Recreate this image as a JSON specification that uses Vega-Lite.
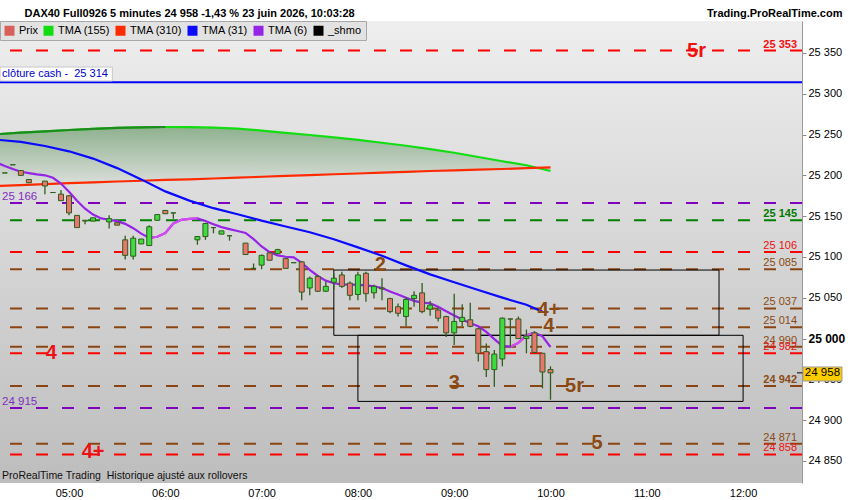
{
"$schema":"https://vega.github.io/schema/vega-lite/v6.json",
"width":802,"height":462,
"autosize":{"type":"none"},
"padding":{"left":0,"top":21,"right":48,"bottom":17},
"background":"#ffffff",
"config":{
 "locale":{"number":{"decimal":",","thousands":" ","grouping":[3],"currency":["","\u00a0€"]}},
 "font":"Liberation Sans",
 "view":{"stroke":null},
 "axis":{"labelFont":"Liberation Sans","titleFont":"Liberation Sans"}
},
"datasets":{
 "candles":[
  {"t":"2026-06-23T04:20","o":25203,"h":25203,"l":25203,"c":25203},
  {"t":"2026-06-23T04:25","o":25213,"h":25213,"l":25213,"c":25213},
  {"t":"2026-06-23T04:30","o":25206,"h":25206,"l":25200,"c":25200},
  {"t":"2026-06-23T04:35","o":25195,"h":25195,"l":25191,"c":25191},
  {"t":"2026-06-23T04:45","o":25193,"h":25193,"l":25177,"c":25187},
  {"t":"2026-06-23T04:50","o":25179,"h":25179,"l":25179,"c":25179},
  {"t":"2026-06-23T04:55","o":25177,"h":25182,"l":25169,"c":25169},
  {"t":"2026-06-23T05:00","o":25175,"h":25176,"l":25151,"c":25154},
  {"t":"2026-06-23T05:05","o":25151,"h":25151,"l":25136,"c":25136},
  {"t":"2026-06-23T05:10","o":25145,"h":25145,"l":25140,"c":25144},
  {"t":"2026-06-23T05:15","o":25144,"h":25148,"l":25144,"c":25148},
  {"t":"2026-06-23T05:25","o":25143,"h":25151,"l":25135,"c":25147},
  {"t":"2026-06-23T05:30","o":25142,"h":25142,"l":25139,"c":25139},
  {"t":"2026-06-23T05:35","o":25121,"h":25126,"l":25097,"c":25102},
  {"t":"2026-06-23T05:40","o":25101,"h":25126,"l":25097,"c":25123},
  {"t":"2026-06-23T05:45","o":25116,"h":25122,"l":25116,"c":25122},
  {"t":"2026-06-23T05:50","o":25114,"h":25139,"l":25114,"c":25137},
  {"t":"2026-06-23T05:55","o":25145,"h":25152,"l":25144,"c":25152},
  {"t":"2026-06-23T06:00","o":25157,"h":25157,"l":25153,"c":25153},
  {"t":"2026-06-23T06:05","o":25154,"h":25154,"l":25147,"c":25154},
  {"t":"2026-06-23T06:20","o":25121,"h":25125,"l":25115,"c":25125},
  {"t":"2026-06-23T06:25","o":25125,"h":25142,"l":25121,"c":25141},
  {"t":"2026-06-23T06:30","o":25136,"h":25136,"l":25129,"c":25136},
  {"t":"2026-06-23T06:35","o":25128,"h":25132,"l":25128,"c":25132},
  {"t":"2026-06-23T06:40","o":25126,"h":25126,"l":25120,"c":25126},
  {"t":"2026-06-23T06:50","o":25117,"h":25117,"l":25103,"c":25103},
  {"t":"2026-06-23T06:55","o":25086,"h":25092,"l":25086,"c":25086},
  {"t":"2026-06-23T07:00","o":25090,"h":25103,"l":25085,"c":25102},
  {"t":"2026-06-23T07:05","o":25105,"h":25105,"l":25096,"c":25096},
  {"t":"2026-06-23T07:10","o":25104,"h":25110,"l":25104,"c":25109},
  {"t":"2026-06-23T07:15","o":25098,"h":25099,"l":25086,"c":25086},
  {"t":"2026-06-23T07:20","o":25093,"h":25093,"l":25093,"c":25093},
  {"t":"2026-06-23T07:25","o":25094,"h":25095,"l":25047,"c":25057},
  {"t":"2026-06-23T07:30","o":25062,"h":25076,"l":25053,"c":25074},
  {"t":"2026-06-23T07:35","o":25076,"h":25078,"l":25057,"c":25058},
  {"t":"2026-06-23T07:40","o":25058,"h":25070,"l":25057,"c":25064},
  {"t":"2026-06-23T07:45","o":25069,"h":25080,"l":25060,"c":25074},
  {"t":"2026-06-23T07:50","o":25078,"h":25082,"l":25062,"c":25064},
  {"t":"2026-06-23T07:55","o":25068,"h":25070,"l":25047,"c":25053},
  {"t":"2026-06-23T08:00","o":25054,"h":25082,"l":25047,"c":25078},
  {"t":"2026-06-23T08:05","o":25080,"h":25082,"l":25045,"c":25055},
  {"t":"2026-06-23T08:10","o":25056,"h":25066,"l":25049,"c":25064},
  {"t":"2026-06-23T08:15","o":25062,"h":25074,"l":25047,"c":25061},
  {"t":"2026-06-23T08:20","o":25049,"h":25050,"l":25031,"c":25033},
  {"t":"2026-06-23T08:25","o":25039,"h":25043,"l":25027,"c":25031},
  {"t":"2026-06-23T08:30","o":25027,"h":25051,"l":25015,"c":25048},
  {"t":"2026-06-23T08:35","o":25049,"h":25058,"l":25039,"c":25053},
  {"t":"2026-06-23T08:40","o":25056,"h":25068,"l":25031,"c":25033},
  {"t":"2026-06-23T08:45","o":25036,"h":25046,"l":25028,"c":25041},
  {"t":"2026-06-23T08:50","o":25035,"h":25038,"l":25021,"c":25025},
  {"t":"2026-06-23T08:55","o":25027,"h":25028,"l":25002,"c":25007},
  {"t":"2026-06-23T09:00","o":25007,"h":25055,"l":24992,"c":25021},
  {"t":"2026-06-23T09:05","o":25021,"h":25042,"l":25015,"c":25026},
  {"t":"2026-06-23T09:10","o":25023,"h":25044,"l":25014,"c":25015},
  {"t":"2026-06-23T09:15","o":25012,"h":25013,"l":24972,"c":24982},
  {"t":"2026-06-23T09:20","o":24984,"h":24994,"l":24953,"c":24962},
  {"t":"2026-06-23T09:25","o":24962,"h":24986,"l":24941,"c":24981},
  {"t":"2026-06-23T09:30","o":24975,"h":25026,"l":24966,"c":25025},
  {"t":"2026-06-23T09:35","o":25024,"h":25024,"l":24990,"c":25024},
  {"t":"2026-06-23T09:40","o":25024,"h":25027,"l":25000,"c":25000},
  {"t":"2026-06-23T09:45","o":25000,"h":25011,"l":24982,"c":25003},
  {"t":"2026-06-23T09:50","o":25007,"h":25009,"l":24982,"c":24983},
  {"t":"2026-06-23T09:55","o":24982,"h":24982,"l":24939,"c":24959},
  {"t":"2026-06-23T10:00","o":24962,"h":24966,"l":24925,"c":24958}
 ],
 "ma":[
  {"s":"TMA (155)","t":"2026-06-23T04:15","v":25250.5},{"s":"TMA (155)","t":"2026-06-23T04:30","v":25252.3},{"s":"TMA (155)","t":"2026-06-23T04:45","v":25254.0},{"s":"TMA (155)","t":"2026-06-23T05:00","v":25255.6},{"s":"TMA (155)","t":"2026-06-23T05:15","v":25257.1},{"s":"TMA (155)","t":"2026-06-23T05:30","v":25258.2},{"s":"TMA (155)","t":"2026-06-23T05:45","v":25258.9},{"s":"TMA (155)","t":"2026-06-23T06:00","v":25259.3},{"s":"TMA (155)","t":"2026-06-23T06:15","v":25259.2},{"s":"TMA (155)","t":"2026-06-23T06:30","v":25258.5},{"s":"TMA (155)","t":"2026-06-23T06:45","v":25257.4},{"s":"TMA (155)","t":"2026-06-23T07:00","v":25254.9},{"s":"TMA (155)","t":"2026-06-23T07:15","v":25252.2},{"s":"TMA (155)","t":"2026-06-23T07:30","v":25249.5},{"s":"TMA (155)","t":"2026-06-23T07:45","v":25246.6},{"s":"TMA (155)","t":"2026-06-23T08:00","v":25243.4},{"s":"TMA (155)","t":"2026-06-23T08:15","v":25240.0},{"s":"TMA (155)","t":"2026-06-23T08:30","v":25236.3},{"s":"TMA (155)","t":"2026-06-23T08:45","v":25232.1},{"s":"TMA (155)","t":"2026-06-23T09:00","v":25227.7},{"s":"TMA (155)","t":"2026-06-23T09:15","v":25222.5},{"s":"TMA (155)","t":"2026-06-23T09:30","v":25217.3},{"s":"TMA (155)","t":"2026-06-23T09:45","v":25212.4},{"s":"TMA (155)","t":"2026-06-23T10:00","v":25205.4},
  {"s":"TMA (310)","t":"2026-06-23T04:15","v":25186.9},{"s":"TMA (310)","t":"2026-06-23T04:30","v":25188.0},{"s":"TMA (310)","t":"2026-06-23T04:45","v":25189.2},{"s":"TMA (310)","t":"2026-06-23T05:00","v":25190.4},{"s":"TMA (310)","t":"2026-06-23T05:15","v":25191.5},{"s":"TMA (310)","t":"2026-06-23T05:30","v":25192.5},{"s":"TMA (310)","t":"2026-06-23T05:45","v":25193.4},{"s":"TMA (310)","t":"2026-06-23T06:00","v":25194.4},{"s":"TMA (310)","t":"2026-06-23T06:15","v":25195.2},{"s":"TMA (310)","t":"2026-06-23T06:30","v":25196.2},{"s":"TMA (310)","t":"2026-06-23T06:45","v":25197.2},{"s":"TMA (310)","t":"2026-06-23T07:00","v":25198.3},{"s":"TMA (310)","t":"2026-06-23T07:15","v":25199.3},{"s":"TMA (310)","t":"2026-06-23T07:30","v":25200.3},{"s":"TMA (310)","t":"2026-06-23T07:45","v":25201.4},{"s":"TMA (310)","t":"2026-06-23T08:00","v":25202.3},{"s":"TMA (310)","t":"2026-06-23T08:15","v":25203.4},{"s":"TMA (310)","t":"2026-06-23T08:30","v":25204.4},{"s":"TMA (310)","t":"2026-06-23T08:45","v":25205.4},{"s":"TMA (310)","t":"2026-06-23T09:00","v":25206.1},{"s":"TMA (310)","t":"2026-06-23T09:15","v":25207.0},{"s":"TMA (310)","t":"2026-06-23T09:30","v":25207.8},{"s":"TMA (310)","t":"2026-06-23T09:45","v":25208.8},{"s":"TMA (310)","t":"2026-06-23T10:00","v":25209.7},
  {"s":"TMA (31)","t":"2026-06-23T04:15","v":25243.7},{"s":"TMA (31)","t":"2026-06-23T04:30","v":25241.1},{"s":"TMA (31)","t":"2026-06-23T04:45","v":25236.0},{"s":"TMA (31)","t":"2026-06-23T05:00","v":25229.5},{"s":"TMA (31)","t":"2026-06-23T05:15","v":25220.6},{"s":"TMA (31)","t":"2026-06-23T05:30","v":25208.9},{"s":"TMA (31)","t":"2026-06-23T05:45","v":25195.1},{"s":"TMA (31)","t":"2026-06-23T06:00","v":25180.4},{"s":"TMA (31)","t":"2026-06-23T06:15","v":25169.1},{"s":"TMA (31)","t":"2026-06-23T06:30","v":25159.8},{"s":"TMA (31)","t":"2026-06-23T06:45","v":25152.3},{"s":"TMA (31)","t":"2026-06-23T07:00","v":25144.5},{"s":"TMA (31)","t":"2026-06-23T07:15","v":25137.4},{"s":"TMA (31)","t":"2026-06-23T07:30","v":25130.3},{"s":"TMA (31)","t":"2026-06-23T07:45","v":25121.8},{"s":"TMA (31)","t":"2026-06-23T08:00","v":25111.8},{"s":"TMA (31)","t":"2026-06-23T08:15","v":25101.6},{"s":"TMA (31)","t":"2026-06-23T08:30","v":25089.7},{"s":"TMA (31)","t":"2026-06-23T08:45","v":25078.7},{"s":"TMA (31)","t":"2026-06-23T09:00","v":25069.0},{"s":"TMA (31)","t":"2026-06-23T09:15","v":25059.6},{"s":"TMA (31)","t":"2026-06-23T09:30","v":25050.2},{"s":"TMA (31)","t":"2026-06-23T09:45","v":25041.4},{"s":"TMA (31)","t":"2026-06-23T09:55","v":25032.8},
  {"s":"TMA (6)","t":"2026-06-23T04:15","v":25215.5},{"s":"TMA (6)","t":"2026-06-23T04:20","v":25211.5},{"s":"TMA (6)","t":"2026-06-23T04:25","v":25207.8},{"s":"TMA (6)","t":"2026-06-23T04:30","v":25204.4},{"s":"TMA (6)","t":"2026-06-23T04:35","v":25202.7},{"s":"TMA (6)","t":"2026-06-23T04:40","v":25201.2},{"s":"TMA (6)","t":"2026-06-23T04:45","v":25200.1},{"s":"TMA (6)","t":"2026-06-23T04:50","v":25197.1},{"s":"TMA (6)","t":"2026-06-23T04:55","v":25190.0},{"s":"TMA (6)","t":"2026-06-23T05:00","v":25180.0},{"s":"TMA (6)","t":"2026-06-23T05:05","v":25168.8},{"s":"TMA (6)","t":"2026-06-23T05:10","v":25159.2},{"s":"TMA (6)","t":"2026-06-23T05:15","v":25152.0},{"s":"TMA (6)","t":"2026-06-23T05:20","v":25147.3},{"s":"TMA (6)","t":"2026-06-23T05:25","v":25145.6},{"s":"TMA (6)","t":"2026-06-23T05:30","v":25143.9},{"s":"TMA (6)","t":"2026-06-23T05:35","v":25140.6},{"s":"TMA (6)","t":"2026-06-23T05:40","v":25135.3},{"s":"TMA (6)","t":"2026-06-23T05:45","v":25128.6},{"s":"TMA (6)","t":"2026-06-23T05:50","v":25123.3},{"s":"TMA (6)","t":"2026-06-23T05:55","v":25124.8},{"s":"TMA (6)","t":"2026-06-23T06:00","v":25129.4},{"s":"TMA (6)","t":"2026-06-23T06:05","v":25141.0},{"s":"TMA (6)","t":"2026-06-23T06:10","v":25145.5},{"s":"TMA (6)","t":"2026-06-23T06:15","v":25146.6},{"s":"TMA (6)","t":"2026-06-23T06:20","v":25147.3},{"s":"TMA (6)","t":"2026-06-23T06:25","v":25144.0},{"s":"TMA (6)","t":"2026-06-23T06:30","v":25140.2},{"s":"TMA (6)","t":"2026-06-23T06:35","v":25136.6},{"s":"TMA (6)","t":"2026-06-23T06:40","v":25134.2},{"s":"TMA (6)","t":"2026-06-23T06:45","v":25131.9},{"s":"TMA (6)","t":"2026-06-23T06:50","v":25129.5},{"s":"TMA (6)","t":"2026-06-23T06:55","v":25121.8},{"s":"TMA (6)","t":"2026-06-23T07:00","v":25112.9},{"s":"TMA (6)","t":"2026-06-23T07:05","v":25105.8},{"s":"TMA (6)","t":"2026-06-23T07:10","v":25102.0},{"s":"TMA (6)","t":"2026-06-23T07:15","v":25100.3},{"s":"TMA (6)","t":"2026-06-23T07:20","v":25099.6},{"s":"TMA (6)","t":"2026-06-23T07:25","v":25092.8},{"s":"TMA (6)","t":"2026-06-23T07:30","v":25084.2},{"s":"TMA (6)","t":"2026-06-23T07:35","v":25076.7},{"s":"TMA (6)","t":"2026-06-23T07:40","v":25071.0},{"s":"TMA (6)","t":"2026-06-23T07:45","v":25067.8},{"s":"TMA (6)","t":"2026-06-23T07:50","v":25066.4},{"s":"TMA (6)","t":"2026-06-23T07:55","v":25066.2},{"s":"TMA (6)","t":"2026-06-23T08:00","v":25065.9},{"s":"TMA (6)","t":"2026-06-23T08:05","v":25065.3},{"s":"TMA (6)","t":"2026-06-23T08:10","v":25064.0},{"s":"TMA (6)","t":"2026-06-23T08:15","v":25062.0},{"s":"TMA (6)","t":"2026-06-23T08:20","v":25057.6},{"s":"TMA (6)","t":"2026-06-23T08:25","v":25053.9},{"s":"TMA (6)","t":"2026-06-23T08:30","v":25050.1},{"s":"TMA (6)","t":"2026-06-23T08:35","v":25046.2},{"s":"TMA (6)","t":"2026-06-23T08:40","v":25044.1},{"s":"TMA (6)","t":"2026-06-23T08:45","v":25043.3},{"s":"TMA (6)","t":"2026-06-23T08:50","v":25039.1},{"s":"TMA (6)","t":"2026-06-23T08:55","v":25033.5},{"s":"TMA (6)","t":"2026-06-23T09:00","v":25028.4},{"s":"TMA (6)","t":"2026-06-23T09:05","v":25023.5},{"s":"TMA (6)","t":"2026-06-23T09:10","v":25018.8},{"s":"TMA (6)","t":"2026-06-23T09:15","v":25015.0},{"s":"TMA (6)","t":"2026-06-23T09:20","v":25008.2},{"s":"TMA (6)","t":"2026-06-23T09:25","v":24999.4},{"s":"TMA (6)","t":"2026-06-23T09:30","v":24991.1},{"s":"TMA (6)","t":"2026-06-23T09:35","v":24990.1},{"s":"TMA (6)","t":"2026-06-23T09:40","v":24994.7},{"s":"TMA (6)","t":"2026-06-23T09:45","v":25004.2},{"s":"TMA (6)","t":"2026-06-23T09:50","v":25007.1},{"s":"TMA (6)","t":"2026-06-23T09:55","v":25002.8},{"s":"TMA (6)","t":"2026-06-23T10:00","v":24989.7}
 ],
 "levels":[
  {"v":25353,"kind":"rouge"},{"v":25166,"kind":"violet"},{"v":25145,"kind":"vert"},{"v":25106,"kind":"rouge"},{"v":25085,"kind":"brun"},{"v":25037,"kind":"brun"},{"v":25014,"kind":"brun"},{"v":24990,"kind":"brun"},{"v":24982,"kind":"rouge"},{"v":24942,"kind":"brun"},{"v":24915,"kind":"violet"},{"v":24871,"kind":"brun"},{"v":24858,"kind":"rouge"}
 ],
 "zones":[
  {"t1":"2026-06-23T07:45","t2":"2026-06-23T11:45","v1":25084,"v2":25004},
  {"t1":"2026-06-23T08:00","t2":"2026-06-23T12:00","v1":25004,"v2":24923}
 ],
 "notes":[
  {"t":"2026-06-23T11:31","v":25353,"txt":"5r","kind":"rouge"},
  {"t":"2026-06-23T08:14","v":25090,"txt":"2","kind":"brun"},
  {"t":"2026-06-23T09:59","v":25035,"txt":"4+","kind":"brun"},
  {"t":"2026-06-23T09:59","v":25015,"txt":"4","kind":"brun"},
  {"t":"2026-06-23T09:00","v":24945,"txt":"3","kind":"brun"},
  {"t":"2026-06-23T10:15","v":24942,"txt":"5r","kind":"brun"},
  {"t":"2026-06-23T10:29","v":24872,"txt":"5","kind":"brun"},
  {"t":"2026-06-23T04:49","v":24982,"txt":"4","kind":"rouge"},
  {"t":"2026-06-23T05:15","v":24861,"txt":"4+","kind":"rouge"}
 ]
},
"layer":[
 {"data":{"values":[{}]},
  "mark":{"type":"rect","color":{"gradient":"linear","x1":0,"y1":0,"x2":0,"y2":1,"stops":[{"offset":0,"color":"#eeeeee"},{"offset":1,"color":"#bdbdbd"}]}},
  "encoding":{
   "x":{"datum":{"year":2026,"month":6,"date":23,"hours":4,"minutes":17},"type":"temporal"},
   "x2":{"datum":{"year":2026,"month":6,"date":23,"hours":12,"minutes":36,"seconds":42}},
   "y":{"datum":25389.2,"type":"quantitative"},
   "y2":{"datum":24823}}},
 {"data":{"name":"ma"},
  "transform":[{"filter":"datum.s == 'TMA (155)' || datum.s == 'TMA (310)'"},{"pivot":"s","value":"v","groupby":["t"]}],
  "mark":{"type":"area","clip":true,"color":{"gradient":"linear","x1":0,"y1":0,"x2":0,"y2":1,"stops":[{"offset":0,"color":"#8fb18f"},{"offset":1,"color":"#dcdfdc"}]}},
  "encoding":{
   "x":{"field":"t","type":"temporal"},
   "y":{"field":"TMA (155)","type":"quantitative"},
   "y2":{"field":"TMA (310)"}}},
 {"data":{"name":"levels"},
  "mark":{"type":"rule","strokeWidth":2,"strokeDash":[12,14]},
  "encoding":{
   "y":{"field":"v","type":"quantitative"},
   "stroke":{"field":"kind","type":"nominal","scale":{"domain":["rouge","vert","brun","violet"],"range":["#ff0000","#008000","#8b4513","#8000c0"]},"legend":null}}},
 {"data":{"values":[{}]},
  "mark":{"type":"rule","color":"#0000ff","strokeWidth":2},
  "encoding":{"y":{"datum":25314,"type":"quantitative"}}},
 {"data":{"name":"zones"},
  "mark":{"type":"rect","fillOpacity":0,"stroke":"#000000","strokeWidth":1},
  "encoding":{
   "x":{"field":"t1","type":"temporal"},"x2":{"field":"t2"},
   "y":{"field":"v1","type":"quantitative"},"y2":{"field":"v2"}}},
 {"data":{"name":"ma"},
  "mark":{"type":"line","strokeWidth":2.2,"clip":true},
  "encoding":{
   "x":{"field":"t","type":"temporal"},
   "y":{"field":"v","type":"quantitative"},
   "color":{"field":"s","type":"nominal",
     "scale":{"domain":["Prix","TMA (155)","TMA (310)","TMA (31)","TMA (6)","_shmo"],"range":["#d9605a","#11dd11","#ff2a00","#0a0aff","#9624e6","#000000"]},
     "legend":{"orient":"none","legendX":0,"legendY":0,"direction":"horizontal","title":null,"symbolType":"square","symbolSize":100,"symbolStrokeWidth":0,"labelFontSize":11,"labelFont":"Liberation Sans","labelColor":"#000000","labelOffset":4,"columnPadding":5,"padding":4,"fillColor":"#e2e2e2","strokeColor":"#a8a8a8",
       "encode":{"symbols":{"update":{"fill":{"scale":"color","field":"value"},"stroke":{"value":"transparent"}}}}}}}},
 {"data":{"name":"ma"},
  "transform":[{"filter":"datum.s == 'TMA (155)' && hours(datum.t) * 60 + minutes(datum.t) <= 360"}],
  "mark":{"type":"line","strokeWidth":2.2,"clip":true,"color":"#1f8a1f"},
  "encoding":{"x":{"field":"t","type":"temporal"},"y":{"field":"v","type":"quantitative"}}},
 {"data":{"name":"ma"},
  "transform":[{"filter":"datum.s == 'TMA (6)' && hours(datum.t) * 60 + minutes(datum.t) >= 350 && hours(datum.t) * 60 + minutes(datum.t) <= 380"}],
  "mark":{"type":"line","strokeWidth":2.2,"clip":true,"color":"#d24cf2"},
  "encoding":{"x":{"field":"t","type":"temporal"},"y":{"field":"v","type":"quantitative"}}},
 {"data":{"name":"ma"},
  "transform":[{"filter":"datum.s == 'TMA (6)' && hours(datum.t) * 60 + minutes(datum.t) >= 575 && hours(datum.t) * 60 + minutes(datum.t) <= 590"}],
  "mark":{"type":"line","strokeWidth":2.2,"clip":true,"color":"#d24cf2"},
  "encoding":{"x":{"field":"t","type":"temporal"},"y":{"field":"v","type":"quantitative"}}},
 {"data":{"name":"candles"},
  "mark":{"type":"rule","color":"#2f5d1d","strokeWidth":1.3},
  "encoding":{
   "x":{"field":"t","type":"temporal",
     "scale":{"padding":0,"domain":[{"year":2026,"month":6,"date":23,"hours":4,"minutes":17},{"year":2026,"month":6,"date":23,"hours":12,"minutes":36,"seconds":42}]},
     "axis":{"orient":"bottom","format":"%H:%M","values":[
        {"year":2026,"month":6,"date":23,"hours":5},{"year":2026,"month":6,"date":23,"hours":6},{"year":2026,"month":6,"date":23,"hours":7},{"year":2026,"month":6,"date":23,"hours":8},{"year":2026,"month":6,"date":23,"hours":9},{"year":2026,"month":6,"date":23,"hours":10},{"year":2026,"month":6,"date":23,"hours":11},{"year":2026,"month":6,"date":23,"hours":12}],
       "domain":false,"ticks":false,"grid":false,"labelFont":"Liberation Sans","labelFontSize":11,"labelColor":"#000000","labelPadding":4,"labelFlush":false,
       "title":"DAX40 Full0926 5 minutes 24 958 -1,43 % 23 juin 2026, 10:03:28","titleX":24,"titleY":-467,"titleAlign":"left","titleBaseline":"alphabetic","titleFontSize":11,"titleFontWeight":"bold","titleColor":"#000000"}},
   "y":{"field":"l","type":"quantitative",
     "scale":{"domain":[24823,25389.2],"nice":false,"zero":false},
     "axis":{"orient":"right","values":[24850,24900,24950,25000,25050,25100,25150,25200,25250,25300,25350],"format":",d","grid":false,"domainColor":"#999999","tickColor":"#888888","tickSize":4,"labelPadding":2,"labelColor":"#000000",
       "labelFontSize":{"condition":{"test":"datum.value == 25000","value":12},"value":11},
       "labelFontWeight":{"condition":{"test":"datum.value == 25000","value":"bold"},"value":"normal"},
       "title":"Trading.ProRealTime.com","titleAngle":0,"titleX":40,"titleY":-5,"titleAlign":"right","titleBaseline":"alphabetic","titleFontSize":11,"titleFontWeight":"bold","titleColor":"#000000"}},
   "y2":{"field":"h"}}},
 {"data":{"name":"candles"},
  "mark":{"type":"bar","size":5,"stroke":"#2f5d1d","strokeWidth":1},
  "encoding":{
   "x":{"field":"t","type":"temporal"},
   "y":{"field":"o","type":"quantitative"},
   "y2":{"field":"c"},
   "color":{"condition":{"test":"datum.c >= datum.o","value":"#3fdc3f"},"value":"#e8766e"}}},
 {"data":{"name":"levels"},
  "transform":[{"filter":"datum.kind != 'violet' && indexof([25353,25145,24942], datum.v) < 0"}],
  "mark":{"type":"text","align":"right","baseline":"alphabetic","dy":-3,"fontSize":11},
  "encoding":{
   "x":{"datum":{"year":2026,"month":6,"date":23,"hours":12,"minutes":33,"seconds":36},"type":"temporal"},
   "y":{"field":"v","type":"quantitative"},
   "text":{"field":"v","type":"quantitative","format":",d"},
   "fill":{"field":"kind","type":"nominal","scale":{"domain":["rouge","vert","brun","violet"],"range":["#ee1111","#007a00","#8b4a14","#7f2fc0"]},"legend":null}}},
 {"data":{"name":"levels"},
  "transform":[{"filter":"indexof([25353,25145,24942], datum.v) >= 0"}],
  "mark":{"type":"text","align":"right","baseline":"alphabetic","dy":-3,"fontSize":11,"fontWeight":"bold"},
  "encoding":{
   "x":{"datum":{"year":2026,"month":6,"date":23,"hours":12,"minutes":33,"seconds":36},"type":"temporal"},
   "y":{"field":"v","type":"quantitative"},
   "text":{"field":"v","type":"quantitative","format":",d"},
   "fill":{"field":"kind","type":"nominal","legend":null}}},
 {"data":{"name":"levels"},
  "transform":[{"filter":"datum.kind == 'violet'"}],
  "mark":{"type":"text","align":"left","baseline":"alphabetic","dy":-3,"fontSize":11.5},
  "encoding":{
   "x":{"datum":{"year":2026,"month":6,"date":23,"hours":4,"minutes":18,"seconds":18},"type":"temporal"},
   "y":{"field":"v","type":"quantitative"},
   "text":{"field":"v","type":"quantitative","format":",d"},
   "fill":{"field":"kind","type":"nominal","legend":null}}},
 {"data":{"name":"notes"},
  "mark":{"type":"text","align":"center","baseline":"middle","fontSize":20,"fontWeight":"bold"},
  "encoding":{
   "x":{"field":"t","type":"temporal"},
   "y":{"field":"v","type":"quantitative"},
   "text":{"field":"txt"},
   "fill":{"field":"kind","type":"nominal","legend":null}}},
 {"data":{"values":[{}]},
  "mark":{"type":"rect","fill":"#ffffff","stroke":"#c8c8c8","strokeWidth":1},
  "encoding":{
   "x":{"datum":{"year":2026,"month":6,"date":23,"hours":4,"minutes":17},"type":"temporal"},
   "x2":{"datum":{"year":2026,"month":6,"date":23,"hours":5,"minutes":27}},
   "y":{"datum":25332.8,"type":"quantitative"},
   "y2":{"datum":25315.7}}},
 {"data":{"values":[{}]},
  "mark":{"type":"text","align":"left","baseline":"middle","fontSize":11,"color":"#0000cc"},
  "encoding":{
   "x":{"datum":{"year":2026,"month":6,"date":23,"hours":4,"minutes":18,"seconds":18},"type":"temporal"},
   "y":{"datum":25324.3,"type":"quantitative"},
   "text":{"value":"clôture cash -\u00a0 25 314"}}},
 {"data":{"values":[{}]},
  "mark":{"type":"text","align":"left","baseline":"middle","fontSize":10.5,"font":"Liberation Sans","color":"#111111"},
  "encoding":{
   "x":{"datum":{"year":2026,"month":6,"date":23,"hours":4,"minutes":18,"seconds":18},"type":"temporal"},
   "y":{"datum":24831.6,"type":"quantitative"},
   "text":{"value":"ProRealTime Trading\u00a0 Historique ajusté aux rollovers"}}},
 {"data":{"values":[{}]},
  "mark":{"type":"rule","color":"#000000","strokeWidth":1},
  "encoding":{
   "x":{"datum":{"year":2026,"month":6,"date":23,"hours":12,"minutes":33,"seconds":36},"type":"temporal"},
   "x2":{"datum":{"year":2026,"month":6,"date":23,"hours":12,"minutes":37,"seconds":18}},
   "y":{"datum":24958,"type":"quantitative"}}},
 {"data":{"values":[{}]},
  "mark":{"type":"rect","fill":"#ffcc00","stroke":"#9a9a9a","strokeWidth":1},
  "encoding":{
   "x":{"datum":{"year":2026,"month":6,"date":23,"hours":12,"minutes":37,"seconds":18},"type":"temporal"},
   "x2":{"datum":{"year":2026,"month":6,"date":23,"hours":13,"minutes":1,"seconds":36}},
   "y":{"datum":24965.2,"type":"quantitative"},
   "y2":{"datum":24948}}},
 {"data":{"values":[{}]},
  "mark":{"type":"text","align":"center","baseline":"middle","fontSize":11.5,"color":"#000000"},
  "encoding":{
   "x":{"datum":{"year":2026,"month":6,"date":23,"hours":12,"minutes":49,"seconds":27},"type":"temporal"},
   "y":{"datum":24958,"type":"quantitative"},
   "text":{"value":"24 958"}}}
]
}
